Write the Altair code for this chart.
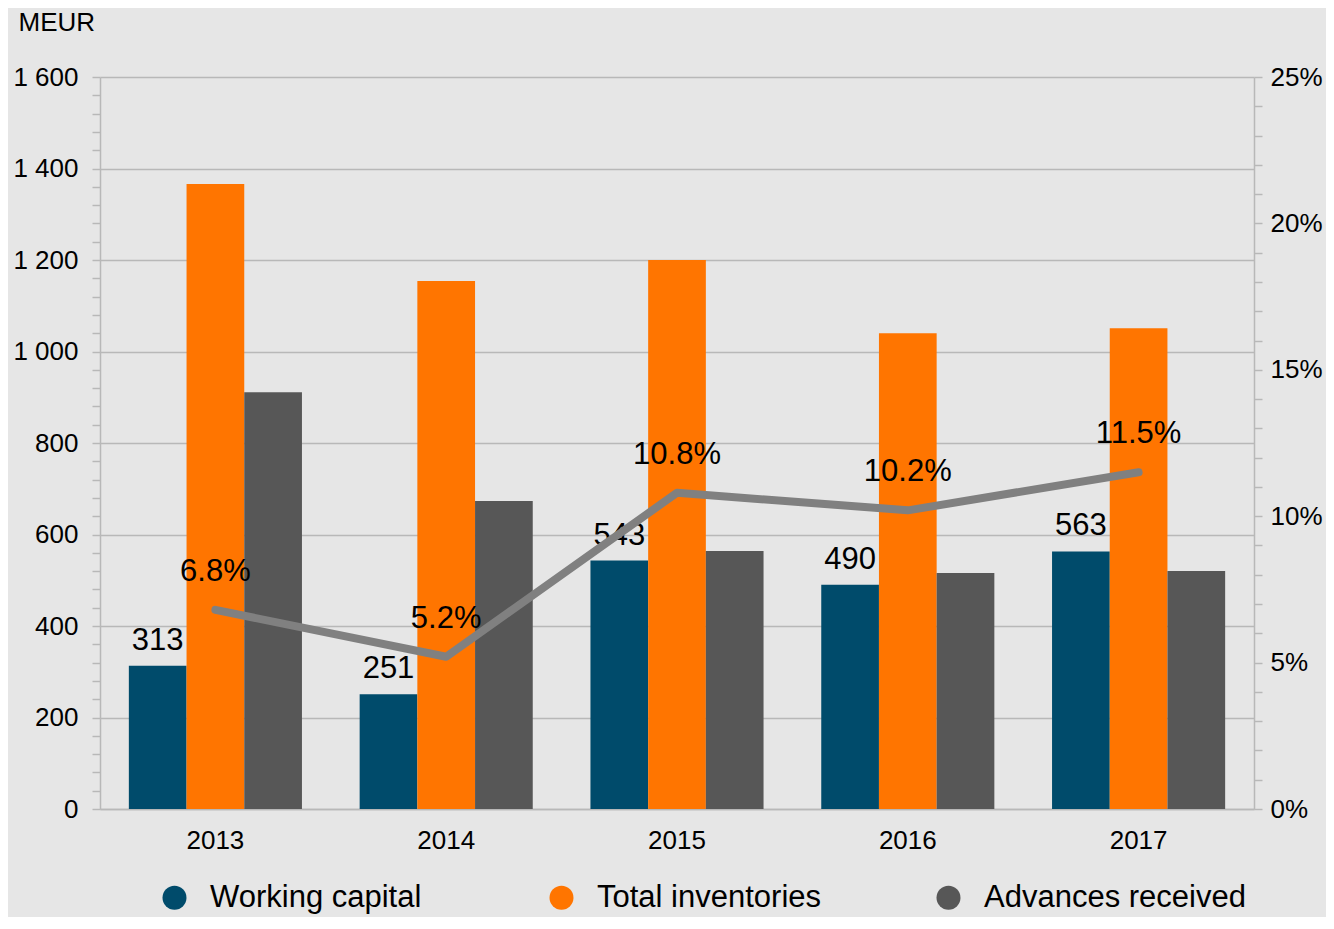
import altair as alt
import pandas as pd

years = ["2013", "2014", "2015", "2016", "2017"]
series_names = ["Working capital", "Total inventories", "Advances received"]
working_capital = [313, 251, 543, 490, 563]
total_inventories = [1366, 1154, 1200, 1040, 1051]
advances_received = [911, 673, 564, 516, 520]
wc_ratio = [6.8, 5.2, 10.8, 10.2, 11.5]
colors = ["#004b6b", "#ff7500", "#575757"]

rows = []
for i, y in enumerate(years):
    for s, vals in zip(series_names, [working_capital, total_inventories, advances_received]):
        rows.append({"year": y, "series": s, "value": vals[i]})
bars_df = pd.DataFrame(rows)
ratio_df = pd.DataFrame({"year": years, "ratio": wc_ratio})

FONT = "Liberation Sans"
AXIS_GRAY = "#b8b8b8"

x_enc = alt.X(
    "year:N", sort=years,
    scale=alt.Scale(paddingInner=0.25, paddingOuter=0.125),
    axis=alt.Axis(title=None, labelAngle=0, ticks=False, labelFontSize=26, labelPadding=18,
                  labelColor="black", domainColor=AXIS_GRAY, domainWidth=1.5, grid=False),
)
xo_enc = alt.XOffset("series:N", sort=series_names,
                     scale=alt.Scale(domain=series_names, paddingInner=0, paddingOuter=0))

y_left = alt.Y(
    "value:Q",
    scale=alt.Scale(domain=[0, 1600], nice=False),
    axis=alt.Axis(
        values=list(range(0, 1601, 40)),
        labelExpr="datum.value % 200 == 0 ? replace(format(datum.value, ','), ',', ' ') : ''",
        gridOpacity={"condition": {"test": "datum.value % 200 == 0", "value": 1}, "value": 0},
        gridColor=AXIS_GRAY, gridWidth=1.5,
        tickSize=8, tickColor=AXIS_GRAY, tickWidth=1.5,
        domainColor=AXIS_GRAY, domainWidth=1.5,
        labelFontSize=26, labelColor="black", labelPadding=14,
        title="MEUR", titleAngle=0, titleAlign="left", titleBaseline="middle",
        titleX=-82, titleY=-55, titleFontSize=26, titleFontWeight="normal", titleColor="black",
    ),
)

bars = alt.Chart(bars_df).mark_bar().encode(
    x=x_enc,
    xOffset=xo_enc,
    y=y_left,
    color=alt.Color(
        "series:N", sort=series_names,
        scale=alt.Scale(domain=series_names, range=colors),
        legend=alt.Legend(
            title=None, orient="none", legendX=59, legendY=805, direction="horizontal",
            columns=3, gridAlign="all", columnPadding=74, symbolType="circle",
            symbolSize=576, symbolStrokeWidth=0, labelFontSize=31, labelOffset=20,
            labelLimit=500, labelColor="black",
        ),
    ),
)

wc_text = alt.Chart(bars_df).transform_filter(
    alt.datum.series == "Working capital"
).mark_text(fontSize=31, baseline="middle", dy=-25, color="black").encode(
    x=x_enc, xOffset=xo_enc, y=y_left, text="value:Q"
)

y_right = alt.Y(
    "ratio:Q",
    scale=alt.Scale(domain=[0, 25], nice=False),
    axis=alt.Axis(
        orient="right", values=list(range(0, 26)),
        labelExpr="datum.value % 5 == 0 ? datum.value + '%' : ''",
        grid=False, tickSize=8, tickColor=AXIS_GRAY, tickWidth=1.5,
        domainColor=AXIS_GRAY, domainWidth=1.5,
        labelFontSize=26, labelColor="black", labelPadding=8, title=None,
    ),
)

line = alt.Chart(ratio_df).mark_line(
    color="#808080", strokeWidth=8, strokeCap="round", strokeJoin="round"
).encode(x=x_enc, y=y_right)

pct_text = alt.Chart(ratio_df).transform_calculate(
    label="format(datum.ratio, '.1f') + '%'"
).mark_text(fontSize=31, baseline="middle", dy=-38, color="black").encode(
    x=x_enc, y=y_right, text="label:N"
)

left = alt.layer(bars, wc_text)
right = alt.layer(line, pct_text)

chart = alt.layer(left, right).resolve_scale(y="independent").properties(
    width=1154, height=732,
    autosize=alt.AutoSizeParams(type="none"),
    padding={"left": 92, "top": 69, "right": 72, "bottom": 108},
    background="#e6e6e6",
).configure(font=FONT).configure_view(stroke=None)

chart.save("out.html", embed_options={"renderer": "svg", "actions": False})
